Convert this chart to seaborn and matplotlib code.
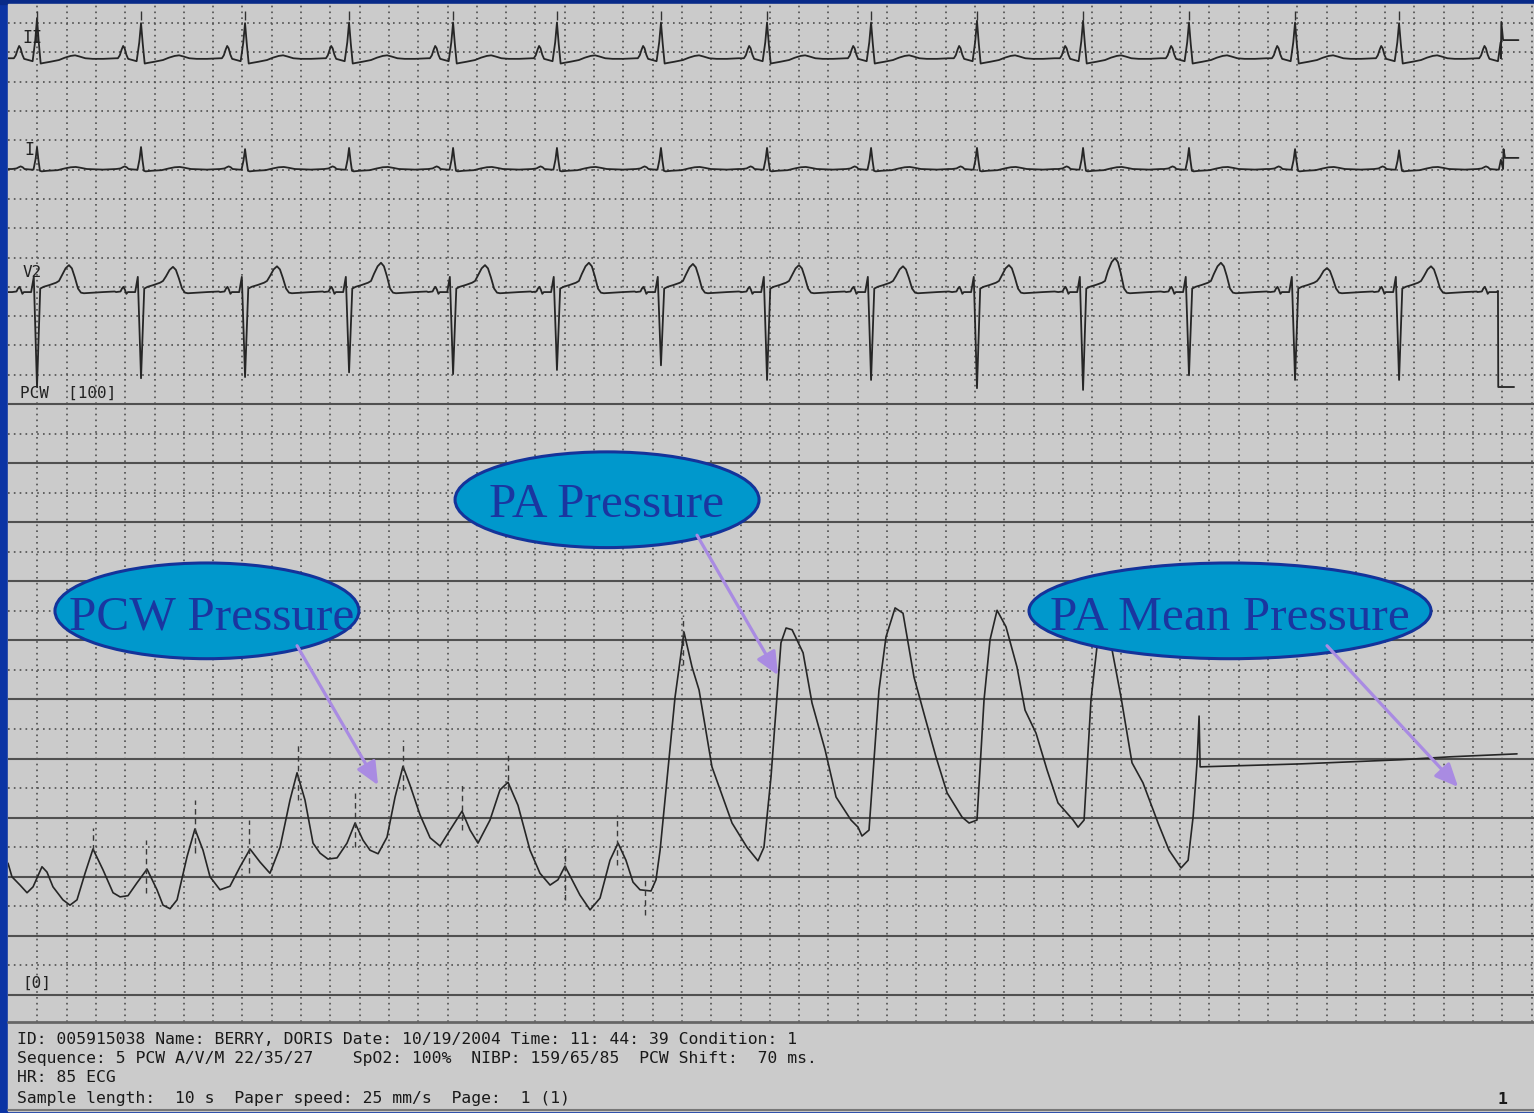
import numpy as np
import pandas as pd
import matplotlib
matplotlib.use("Agg")
import matplotlib.pyplot as plt
import seaborn as sns
from matplotlib.patches import Ellipse, Rectangle
from matplotlib.lines import Line2D

sns.set_theme(style="white")
plt.rcParams["font.family"] = ["DejaVu Sans", "Noto Sans"]

# ---------------- data ----------------
# ECG: R-wave times (s); last one is the truncated beat before the calibration step
r_times = [0.198, 0.908, 1.618, 2.328, 3.038, 3.747, 4.457, 5.181, 5.891,
           6.614, 7.338, 8.061, 8.785, 9.495, 10.200]

# Lead II (mm on paper)
lead2_base = 59.0
lead2_dt = [-0.170, -0.158, -0.145, -0.132, -0.122, -0.112, -0.100, -0.088, -0.060, -0.030,
            -0.012, 0.000, 0.012, 0.025, 0.045, 0.090, 0.150, 0.190, 0.230, 0.260,
            0.290, 0.330, 0.380, 0.450, 0.530]
lead2_y = [0.0, 0.0, 0.5, 1.5, 2.1, 1.7, 0.6, -0.1, -0.3, -0.5,
           0.45, 1.0, 0.4, -0.9, -0.8, -0.6, -0.3, 0.1, 0.4, 0.5,
           0.3, 0.0, -0.1, -0.1, 0.0]
lead2_wave = ["b"] * 10 + ["R", "R", "R"] + ["b"] * 12
lead2_r_mm = [6.8, 6.0, 6.0, 6.1, 6.1, 6.1, 6.1, 6.1, 6.1, 6.4, 6.4, 6.1, 6.1, 6.0, 6.0]
lead2_end = 10.190
lead2_tail_t = [10.190, 10.193, 10.205, 10.310]
lead2_tail_y = [59.0, 65.2, 62.1, 62.1]

# Lead I
lead1_base = 40.1
lead1_dt = [-0.170, -0.140, -0.125, -0.112, -0.098, -0.085, -0.040, -0.024, -0.010,
            0.000, 0.010, 0.020, 0.032, 0.070, 0.140, 0.190, 0.230, 0.265, 0.300,
            0.340, 0.450, 0.530]
lead1_y = [0.0, 0.1, 0.3, 0.45, 0.3, 0.0, -0.1, -0.1, 0.45,
           1.0, 0.4, -0.3, -0.4, -0.3, -0.2, 0.1, 0.3, 0.35, 0.2,
           0.0, -0.1, 0.0]
lead1_wave = ["b"] * 8 + ["R", "R", "R"] + ["b"] * 11
lead1_r_mm = [3.7, 3.75, 3.4, 3.6, 3.6, 3.6, 3.6, 3.6, 3.6, 3.6, 3.6, 3.6, 3.4, 3.2, 3.5]
lead1_end = 10.200
lead1_tail_t = [10.205, 10.208, 10.218, 10.310]
lead1_tail_y = [40.1, 43.5, 42.0, 42.0]

# Lead V2
v2_base = 19.1
v2_dt = [-0.170, -0.140, -0.130, -0.120, -0.110, -0.100, -0.090, -0.040, -0.022,
         0.000, 0.022, 0.045, 0.085, 0.130, 0.150,
         0.170, 0.195, 0.218, 0.238, 0.258,
         0.280, 0.300, 0.320, 0.450, 0.530]
v2_y = [0.0, 0.1, 0.6, 0.9, 0.4, -0.3, 0.0, 0.0, 2.6,
        -1.0, 0.6, 0.9, 1.2, 1.6, 1.9,
        0.62, 0.88, 1.0, 0.88, 0.55,
        0.6, -0.1, -0.2, 0.0, 0.1]
v2_wave = ["b"] * 9 + ["S"] + ["b"] * 5 + ["T"] * 5 + ["b"] * 5
v2_s_mm = [16.2, 14.7, 14.5, 13.7, 14.0, 13.3, 12.5, 15.0, 15.0, 16.4, 16.7, 14.2, 15.0, 15.0, 15.0]
v2_t_mm = [4.6, 4.3, 4.4, 5.0, 4.6, 5.0, 4.8, 4.6, 4.4, 4.6, 5.8, 5.0, 4.1, 4.4, 4.4]
v2_end = 10.165
v2_tail_t = [10.170, 10.172, 10.280]
v2_tail_y = [19.3, 2.9, 2.9]

# Pressure trace (s, mmHg)
pressure_t = [0.000, 0.027, 0.082, 0.130, 0.171, 0.232, 0.266, 0.307, 0.375, 0.423,
              0.471, 0.526, 0.580, 0.648, 0.717, 0.765, 0.819, 0.881, 0.949, 1.017,
              1.058, 1.106, 1.154, 1.222, 1.276, 1.331, 1.379, 1.447, 1.515, 1.584,
              1.652, 1.720, 1.788, 1.857, 1.925, 1.973, 2.027, 2.082, 2.130, 2.184,
              2.246, 2.314, 2.369, 2.423, 2.471, 2.526, 2.587, 2.642, 2.696, 2.744,
              2.812, 2.881, 2.949, 3.017, 3.099, 3.154, 3.208, 3.290, 3.358, 3.413,
              3.481, 3.563, 3.631, 3.700, 3.754, 3.802, 3.850, 3.904, 3.973, 4.041,
              4.109, 4.164, 4.218, 4.266, 4.314, 4.389, 4.423, 4.451, 4.553, 4.614,
              4.669, 4.717, 4.805, 4.942, 5.044, 5.119, 5.160, 5.208, 5.276, 5.311,
              5.352, 5.427, 5.488, 5.577, 5.652, 5.754, 5.802, 5.829, 5.877, 5.945,
              5.993, 6.055, 6.109, 6.184, 6.259, 6.334, 6.410, 6.512, 6.560, 6.614,
              6.662, 6.703, 6.751, 6.812, 6.887, 6.942, 7.017, 7.092, 7.167, 7.270,
              7.304, 7.345, 7.392, 7.433, 7.474, 7.536, 7.597, 7.672, 7.747, 7.850,
              7.925, 8.007, 8.055, 8.089, 8.116, 8.130, 8.137,
              8.819, 9.502, 9.843, 10.300]
pressure_mmhg = [22.3, 20.0, 18.6, 17.3, 18.3, 21.7, 20.8, 18.3, 16.1, 15.2,
                 16.1, 20.6, 24.7, 21.2, 17.3, 16.6, 16.8, 19.0, 21.3, 17.8,
                 15.2, 14.6, 16.1, 23.4, 28.1, 24.5, 20.0, 17.8, 18.4, 21.7,
                 24.7, 22.5, 20.6, 25.0, 33.0, 37.6, 33.0, 25.7, 24.0, 23.0,
                 23.2, 25.7, 29.1, 26.2, 24.5, 23.9, 26.7, 33.5, 38.7, 35.5,
                 30.5, 26.6, 25.2, 27.9, 31.1, 27.9, 25.7, 29.6, 34.7, 36.0,
                 32.1, 24.5, 20.6, 18.6, 19.5, 21.8, 19.5, 16.9, 14.4, 16.4,
                 22.8, 25.7, 22.8, 19.1, 17.8, 17.6, 19.5, 24.5, 50.4, 61.4,
                 55.5, 51.6, 38.6, 29.1, 25.0, 22.7, 25.0, 36.9, 59.6, 62.1,
                 61.8, 57.9, 49.4, 41.5, 33.5, 29.6, 28.4, 26.9, 27.9, 51.6,
                 60.6, 65.5, 64.6, 53.8, 47.0, 40.3, 34.2, 30.1, 29.1, 29.6,
                 49.9, 60.1, 65.1, 62.3, 55.5, 48.2, 44.3, 38.1, 32.5, 29.6,
                 28.4, 29.6, 49.9, 58.9, 63.8, 58.4, 50.4, 39.3, 35.9, 29.1,
                 24.5, 21.5, 22.8, 30.1, 39.3, 47.2, 38.6,
                 39.1, 39.8, 40.3, 40.8]

# dashed wave markers on the pressure channel
marker_t = [0.580, 0.942, 1.276, 1.645, 1.980, 2.369, 2.696, 3.099, 3.413, 3.802, 4.157, 4.348, 4.608]
marker_top = [28.3, 26.2, 33.0, 29.6, 42.3, 34.2, 43.1, 35.5, 40.6, 24.9, 30.5, 19.5, 64.3]
marker_bottom = [24.5, 17.3, 24.0, 20.6, 33.0, 25.0, 34.7, 27.9, 34.7, 16.1, 22.0, 13.5, 55.8]

# callouts
callout_labels = ["PCW Pressure", "PA Pressure", "PA Mean Pressure"]
callout_center_t = [1.358, 4.089, 8.341]
callout_center_p = [65.0, 83.8, 65.0]
callout_width_s = [2.075, 2.075, 2.744]
callout_height_p = [16.2, 16.2, 16.2]
callout_text_t = [1.392, 4.089, 8.341]
callout_text_p = [61.8, 80.9, 61.8]
arrow_start_t = [1.973, 4.703, 9.003]
arrow_start_p = [59.1, 77.8, 59.1]
arrow_end_t = [2.526, 5.256, 9.898]
arrow_end_p = [35.5, 54.1, 35.2]

footer_lines = [
    "ID: 005915038 Name: BERRY, DORIS Date: 10/19/2004 Time: 11: 44: 39 Condition: 1",
    "Sequence: 5 PCW A/V/M 22/35/27    SpO2: 100%  NIBP: 159/65/85  PCW Shift:  70 ms.",
    "HR: 85 ECG",
    "Sample length:  10 s  Paper speed: 25 mm/s  Page:  1 (1)",
]

# ---------------- helpers ----------------
def build_trace(base, dt, yv, wave, scales, end_t, tail_t, tail_y):
    ts, vs = [0.0], [base]
    n = len(r_times)
    for i, r in enumerate(r_times):
        hi = r_times[i + 1] - 0.17 if i + 1 < n else end_t
        hi = min(hi, end_t)
        for d, y, w in zip(dt, yv, wave):
            t = r + d
            if t < 0 or t >= hi:
                continue
            s = scales[w][i] if w in scales else 1.0
            ts.append(t)
            vs.append(base + y * s)
    ts += list(tail_t)
    vs += list(tail_y)
    return pd.DataFrame({"t": ts, "v": vs})


W, H = 1534, 1113
BLUE = "#0b34a4"
PAPER = "#cbcbcb"
TRACE = "#262626"
GRID = "#4f4f4f"
T_MAX = 10.416


def frac(x0, y0, x1, y1):
    return [x0 / W, 1 - y1 / H, (x1 - x0) / W, (y1 - y0) / H]


fig = plt.figure(figsize=(W / 100, H / 100), dpi=100, facecolor=BLUE)
fig.add_artist(Rectangle((0, 1 - 4 / H), 1, 4 / H, transform=fig.transFigure,
                         color="#082a88", zorder=-6))
fig.add_artist(Rectangle((8 / W, 1 - 1111 / H), 1526 / W, 1107 / H,
                         transform=fig.transFigure, color=PAPER, zorder=-5))

dot_style = (0, (1.0, 2.5))
grid_t = np.arange(0.2, T_MAX, 0.2)

# ---------------- ECG axes ----------------
ax_e = fig.add_axes(frac(8, 4, 1534, 404))
ax_e.set_xlim(0, T_MAX)
ax_e.set_ylim(0, 68.26)
ax_e.vlines(grid_t, 0, 68.26, colors=GRID, linestyles=dot_style, lw=1.2, zorder=1)
ax_e.hlines(np.arange(5, 68, 5), 0, T_MAX, colors=GRID, linestyles=dot_style, lw=1.2, zorder=1)

df2 = build_trace(lead2_base, lead2_dt, lead2_y, lead2_wave, {"R": lead2_r_mm},
                  lead2_end, lead2_tail_t, lead2_tail_y)
df1 = build_trace(lead1_base, lead1_dt, lead1_y, lead1_wave, {"R": lead1_r_mm},
                  lead1_end, lead1_tail_t, lead1_tail_y)
dfv = build_trace(v2_base, v2_dt, v2_y, v2_wave, {"S": v2_s_mm, "T": v2_t_mm},
                  v2_end, v2_tail_t, v2_tail_y)
for df in (df2, df1, dfv):
    sns.lineplot(data=df, x="t", y="v", sort=False, estimator=None, ax=ax_e,
                 color=TRACE, lw=1.3, zorder=3)

ax_e.vlines(r_times[:14], 65.6, 67.0, colors="#333333", lw=1.0, zorder=3)

mono = "DejaVu Sans Mono"
ax_e.text(0.096, 62.5, "II", fontfamily=mono, fontsize=12, color="#222222", va="center", zorder=4)
ax_e.text(0.110, 43.3, "I", fontfamily=mono, fontsize=12, color="#222222", va="center", zorder=4)
ax_e.text(0.096, 22.5, "V2", fontfamily=mono, fontsize=11.5, color="#222222", va="center", zorder=4)
ax_e.text(0.082, 1.9, "PCW  [100]", fontfamily=mono, fontsize=11.5, color="#222222", va="center", zorder=4)
ax_e.axis("off")

# ---------------- Pressure axes ----------------
ax_p = fig.add_axes(frac(8, 404, 1534, 1022))
ax_p.set_xlim(0, T_MAX)
ax_p.set_ylim(-4.57, 100.0)
ax_p.vlines(grid_t, -4.57, 100, colors=GRID, linestyles=dot_style, lw=1.2, zorder=1)
ax_p.hlines(np.arange(5, 100, 10), 0, T_MAX, colors=GRID, linestyles=dot_style, lw=1.2, zorder=1)
ax_p.hlines(np.arange(0, 101, 10), 0, T_MAX, colors="#505050", lw=1.5, zorder=1, clip_on=False)

dfp = pd.DataFrame({"t": pressure_t, "p": pressure_mmhg})
sns.lineplot(data=dfp, x="t", y="p", sort=False, estimator=None, ax=ax_p,
             color=TRACE, lw=1.2, zorder=3)
ax_p.vlines(marker_t, marker_bottom, marker_top, colors="#3a3a3a",
            linestyles=(0, (4, 3)), lw=1.0, zorder=3)
ax_p.text(0.096, 1.9, "[0]", fontfamily=mono, fontsize=11.5, color="#222222", va="center", zorder=4)

for i, lab in enumerate(callout_labels):
    ax_p.add_patch(Ellipse((callout_center_t[i], callout_center_p[i]), callout_width_s[i],
                           callout_height_p[i], facecolor="#0098cc", edgecolor="#14339a",
                           lw=2.2, zorder=6))
    ax_p.text(callout_text_t[i], callout_text_p[i], lab, fontfamily="Liberation Serif",
              fontsize=35.5, color="#1a36a0", ha="center", va="baseline", zorder=7)
    ax_p.annotate("", xy=(arrow_end_t[i], arrow_end_p[i]),
                  xytext=(arrow_start_t[i], arrow_start_p[i]),
                  arrowprops=dict(arrowstyle="-|>,head_length=1.0,head_width=0.45",
                                  mutation_scale=14, lw=2.3, color="#a98be2",
                                  shrinkA=0, shrinkB=0), zorder=8)
ax_p.axis("off")

# ---------------- footer ----------------
fig.add_artist(Line2D([8 / W, 1], [1 - 1022 / H] * 2, transform=fig.transFigure,
                      color="#666666", lw=2.0))
fig.add_artist(Line2D([8 / W, 1], [1 - 1110 / H] * 2, transform=fig.transFigure,
                      color="#777777", lw=1.5))
for k, (line, ypx) in enumerate(zip(footer_lines, [1039, 1058, 1078, 1098])):
    fig.text(17 / W, 1 - ypx / H, line, fontfamily=mono, fontsize=11.8,
             color="#1a1a1a", va="center", ha="left")
fig.text(1502 / W, 1 - 1099 / H, "1", fontfamily=mono, fontsize=11.8,
         color="#1a1a1a", va="center", ha="center", fontweight="bold")

fig.savefig("out.png", dpi=100, facecolor=fig.get_facecolor())
